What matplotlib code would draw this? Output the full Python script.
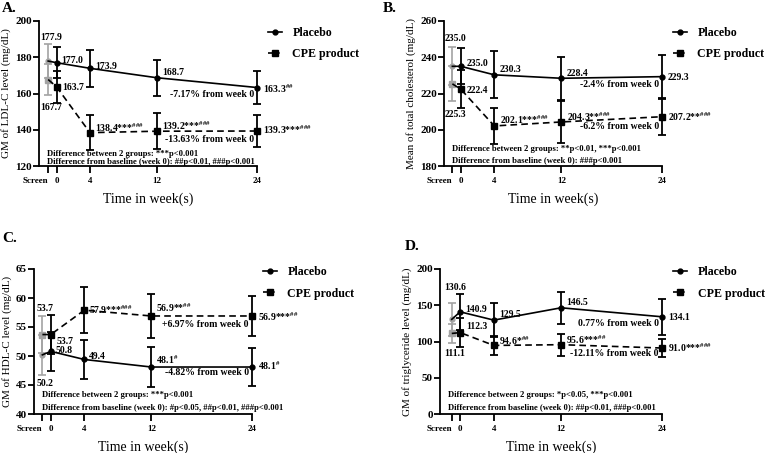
# Lipid profile panels: placebo vs CPE product over 24 weeks

import matplotlib
matplotlib.use('Agg')
import matplotlib.pyplot as plt
import matplotlib.transforms as mtransforms

plt.rcParams['font.family'] = 'Liberation Serif'
plt.rcParams['font.weight'] = 'bold'
plt.rcParams['mathtext.fontset'] = 'custom'
plt.rcParams['mathtext.rm'] = 'Liberation Serif:bold'
plt.rcParams['mathtext.it'] = 'Liberation Serif:italic:bold'
plt.rcParams['mathtext.bf'] = 'Liberation Serif:bold'

# ---- data ----
weeks = [0, 4, 12, 24]
screen_week = -1
xtick_labels = ['Screen', '0', '4', '12', '24']

# A. LDL-C
ldl_screen = [177.9, 167.7]          # placebo, CPE
ldl_screen_err = [9.2, 8.5]
ldl_placebo = [177.0, 173.9, 168.7, 163.3]
ldl_placebo_err = [8.5, 10.2, 10.0, 9.3]
ldl_cpe = [163.7, 138.4, 139.2, 139.3]
ldl_cpe_err = [8.8, 9.5, 9.8, 8.7]
ldl_placebo_lab = ['177.0', '173.9', '168.7', '163.3']
ldl_placebo_sup = ['', '', '', '##']
ldl_cpe_lab = ['163.7', '138.4***', '139.2***', '139.3***']
ldl_cpe_sup = ['', '###', '###', '###']
ldl_pct = ['-7.17% from week 0', '-13.63% from week 0']
ldl_notes = ['Difference between 2 groups: ***p<0.001',
             'Difference from baseline (week 0): ##p<0.01, ###p<0.001']

# B. total cholesterol
tc_screen = [235.0, 225.3]
tc_screen_err = [10.4, 9.7]
tc_placebo = [235.0, 230.3, 228.4, 229.3]
tc_placebo_err = [10.0, 13.0, 12.0, 12.0]
tc_cpe = [222.4, 202.1, 204.3, 207.2]
tc_cpe_err = [10.6, 10.0, 11.5, 10.0]
tc_placebo_lab = ['235.0', '230.3', '228.4', '229.3']
tc_placebo_sup = ['', '', '', '']
tc_cpe_lab = ['222.4', '202.1***', '204.3**', '207.2**']
tc_cpe_sup = ['', '###', '###', '###']
tc_pct = ['-2.4% from week 0', '-6.2% from week 0']
tc_notes = ['Difference between 2 groups: **p<0.01, ***p<0.001',
            'Difference from baseline (week 0): ###p<0.001']

# C. HDL-C
hdl_screen = [50.2, 53.7]
hdl_screen_err = [3.5, 3.2]
hdl_placebo = [50.8, 49.4, 48.1, 48.1]
hdl_placebo_err = [3.4, 3.3, 3.4, 3.3]
hdl_cpe = [53.7, 57.9, 56.9, 56.9]
hdl_cpe_err = [3.4, 4.0, 3.8, 3.5]
hdl_placebo_lab = ['50.8', '49.4', '48.1', '48.1']
hdl_placebo_sup = ['', '', '#', '#']
hdl_cpe_lab = ['53.7', '57.9***', '56.9**', '56.9***']
hdl_cpe_sup = ['', '###', '##', '##']
hdl_pct = ['-4.82% from week 0', '+6.97% from week 0']
hdl_notes = ['Difference between 2 groups: ***p<0.001',
             'Difference from baseline (week 0): #p<0.05, ##p<0.01, ###p<0.001']

# D. triglyceride
tg_screen = [130.6, 111.1]
tg_screen_err = [23.0, 13.0]
tg_placebo = [140.9, 129.5, 146.5, 134.1]
tg_placebo_err = [24.5, 23.0, 22.0, 25.0]
tg_cpe = [112.3, 94.6, 95.6, 91.0]
tg_cpe_err = [20.0, 13.0, 15.0, 13.0]
tg_placebo_lab = ['140.9', '129.5', '146.5', '134.1']
tg_placebo_sup = ['', '', '', '']
tg_cpe_lab = ['112.3', '94.6*', '95.6***', '91.0***']
tg_cpe_sup = ['', '##', '##', '###']
tg_pct = ['0.77% from week 0', '-12.11% from week 0']
tg_notes = ['Difference between 2 groups: *p<0.05, ***p<0.001',
            'Difference from baseline (week 0): ##p<0.01, ###p<0.001']

GREY = '#a3a3a3'


def fmt(lab, sup):
    if sup:
        return lab + r'$^{\mathit{' + sup.replace('#', r'\#') + '}}$'
    return lab


def draw_panel(ax, screen, screen_err, plac, plac_err, cpe, cpe_err,
               plac_lab, plac_sup, cpe_lab, cpe_sup, pct, notes,
               ylim, yticks, ylabel, st):
    xs = [screen_week] + weeks
    # lines through screen + visits
    ax.plot(xs, [screen[0]] + plac, '-', color='k', lw=1.2, clip_on=False, zorder=3)
    ax.plot(xs, [screen[1]] + cpe, '--', color='k', lw=1.2, dashes=(4, 2.5),
            clip_on=False, zorder=3)
    # screening points in grey
    ax.errorbar([screen_week], [screen[0]], yerr=[screen_err[0]], fmt='o', ms=3.5,
                color=GREY, ecolor=GREY, elinewidth=1.2, capsize=3, capthick=1.2, zorder=2)
    ax.errorbar([screen_week], [screen[1]], yerr=[screen_err[1]], fmt='s', ms=4,
                color=GREY, ecolor=GREY, elinewidth=1.2, capsize=3, capthick=1.2, zorder=2)
    # visits
    ax.errorbar(weeks, plac, yerr=plac_err, fmt='o', ms=3.5, color='k', elinewidth=1.3,
                capsize=3, capthick=1.3, zorder=4, clip_on=False)
    ax.errorbar(weeks, cpe, yerr=cpe_err, fmt='s', ms=4.5, color='k', elinewidth=1.3,
                capsize=3, capthick=1.3, zorder=4, clip_on=False)

    for x, y, l, s, o in zip(weeks, plac, plac_lab, plac_sup, st['plac_off']):
        ax.annotate(fmt(l, s), (x, y), xytext=o, textcoords='offset pixels',
                    fontsize=7, ha='left', va='center_baseline')
    for x, y, l, s, o in zip(weeks, cpe, cpe_lab, cpe_sup, st['cpe_off']):
        ax.annotate(fmt(l, s), (x, y), xytext=o, textcoords='offset pixels',
                    fontsize=7, ha='left', va='center_baseline')

    # screening value labels
    hi = 0 if screen[0] >= screen[1] else 1
    lo = 1 - hi
    ax.annotate(f'{screen[hi]:.1f}', (screen_week, screen[hi] + screen_err[hi]),
                xytext=(3, st['scr_top']), textcoords='offset pixels',
                fontsize=7, ha='center', va='center')
    ax.annotate(f'{screen[lo]:.1f}', (screen_week, screen[lo] - screen_err[lo]),
                xytext=(3, st['scr_bot']), textcoords='offset pixels',
                fontsize=7, ha='center', va='center')

    # percent change from week 0
    for txt, y in zip(pct, st['pct_y']):
        ax.annotate(txt, (weeks[-1], y), xytext=(-3, 0), textcoords='offset pixels',
                    fontsize=7, ha='right', va='center')

    for txt, y in zip(notes, st['note_y']):
        ax.text(0.035, y, txt, transform=ax.transAxes, fontsize=6.2, va='center')

    ax.set_xlim(st['xmin'], 24)
    ax.set_ylim(*ylim)
    ax.set_yticks(yticks)
    ax.set_xticks([screen_week] + weeks)
    ax.set_xticklabels(xtick_labels)
    lab0 = ax.get_xticklabels()[0]
    lab0.set_ha('right')
    lab0.set_transform(lab0.get_transform() +
                       mtransforms.ScaledTranslation(4 / 100, 0, ax.figure.dpi_scale_trans))
    ax.tick_params(axis='x', labelsize=6.5, length=5, width=1.3, pad=3)
    ax.tick_params(axis='y', labelsize=8, length=4, width=1.3, pad=1)
    for sp in ['top', 'right']:
        ax.spines[sp].set_visible(False)
    for sp in ['left', 'bottom']:
        ax.spines[sp].set_linewidth(1.3)
    ax.set_ylabel(ylabel, fontsize=8, labelpad=3)
    ax.set_xlabel('Time in week(s)', fontsize=10, labelpad=5)

    ax.plot([], [], '-o', color='k', ms=3.5, lw=1.2, label='Placebo')
    ax.plot([], [], '--s', color='k', ms=4, lw=1.2, dashes=(2.5, 2), label='CPE product')
    h, l = ax.get_legend_handles_labels()
    ax.legend(h[-2:], l[-2:], loc='upper left', bbox_to_anchor=st['leg'], frameon=False,
              fontsize=8.6, handlelength=1.2, handletextpad=0.85, labelspacing=0.8,
              borderaxespad=0, borderpad=0)


fig = plt.figure(figsize=(7.67, 4.53), dpi=100)
H = 453.0
W = 767.0


def axes_px(x0, x1, ytop, ybot):
    return fig.add_axes([x0 / W, (H - ybot) / H, (x1 - x0) / W, (ybot - ytop) / H])


axA = axes_px(39, 257, 21, 166)
draw_panel(axA, ldl_screen, ldl_screen_err, ldl_placebo, ldl_placebo_err,
           ldl_cpe, ldl_cpe_err, ldl_placebo_lab, ldl_placebo_sup,
           ldl_cpe_lab, ldl_cpe_sup, ldl_pct, ldl_notes,
           (120, 200), [120, 140, 160, 180, 200], 'GM of LDL-C level (mg/dL)',
           dict(xmin=-2.1, plac_off=[(5, 3), (5, 3), (5, 6), (6, 0)],
                cpe_off=[(6, 0), (5, 6), (5, 6), (6, 2)], scr_top=7, scr_bot=-13,
                pct_y=[159.6, 134.8], note_y=[0.083, 0.028], leg=(1.05, 0.96)))

axB = axes_px(444, 662, 21, 166)
draw_panel(axB, tc_screen, tc_screen_err, tc_placebo, tc_placebo_err,
           tc_cpe, tc_cpe_err, tc_placebo_lab, tc_placebo_sup,
           tc_cpe_lab, tc_cpe_sup, tc_pct, tc_notes,
           (180, 260), [180, 200, 220, 240, 260], 'Mean of total cholesterol (mg/dL)',
           dict(xmin=-2.0, plac_off=[(6, 4), (5, 6), (5, 6), (6, 0)],
                cpe_off=[(6, 0), (6, 7), (6, 6), (6, 1)], scr_top=9, scr_bot=-13,
                pct_y=[225.2, 202.0], note_y=[0.117, 0.034], leg=(1.05, 0.96)))

axC = axes_px(34, 252, 269, 414)
draw_panel(axC, hdl_screen, hdl_screen_err, hdl_placebo, hdl_placebo_err,
           hdl_cpe, hdl_cpe_err, hdl_placebo_lab, hdl_placebo_sup,
           hdl_cpe_lab, hdl_cpe_sup, hdl_pct, hdl_notes,
           (40, 65), [40, 45, 50, 55, 60, 65], 'GM of HDL-C level (mg/dL)',
           dict(xmin=-2.0, plac_off=[(5, 2), (5, 4), (5, 8), (6, 2)],
                cpe_off=[(6, -6), (5, 1), (5, 9), (6, 0)], scr_top=7, scr_bot=-8,
                pct_y=[47.1, 55.5], note_y=[0.131, 0.041], leg=(1.05, 1.02)))

axD = axes_px(440, 662, 269, 414)
draw_panel(axD, tg_screen, tg_screen_err, tg_placebo, tg_placebo_err,
           tg_cpe, tg_cpe_err, tg_placebo_lab, tg_placebo_sup,
           tg_cpe_lab, tg_cpe_sup, tg_pct, tg_notes,
           (0, 200), [0, 50, 100, 150, 200], 'GM of triglyceride level (mg/dL)',
           dict(xmin=-2.4, plac_off=[(5, 3), (5, 7), (5, 6), (6, 0)],
                cpe_off=[(6, 7), (5, 6), (5, 6), (6, 1)], scr_top=15, scr_bot=-11,
                pct_y=[125.5, 82.8], note_y=[0.131, 0.041], leg=(1.05, 1.02)))

fig.text(2 / W, 1 - 8 / H, 'A.', fontsize=11, va='center', ha='left')
fig.text(383 / W, 1 - 8 / H, 'B.', fontsize=11, va='center', ha='left')
fig.text(2 / W, 1 - 238 / H, 'C.', fontsize=11, va='center', ha='left')
fig.text(405 / W, 1 - 246 / H, 'D.', fontsize=11, va='center', ha='left')

fig.savefig('out.png', dpi=100)
